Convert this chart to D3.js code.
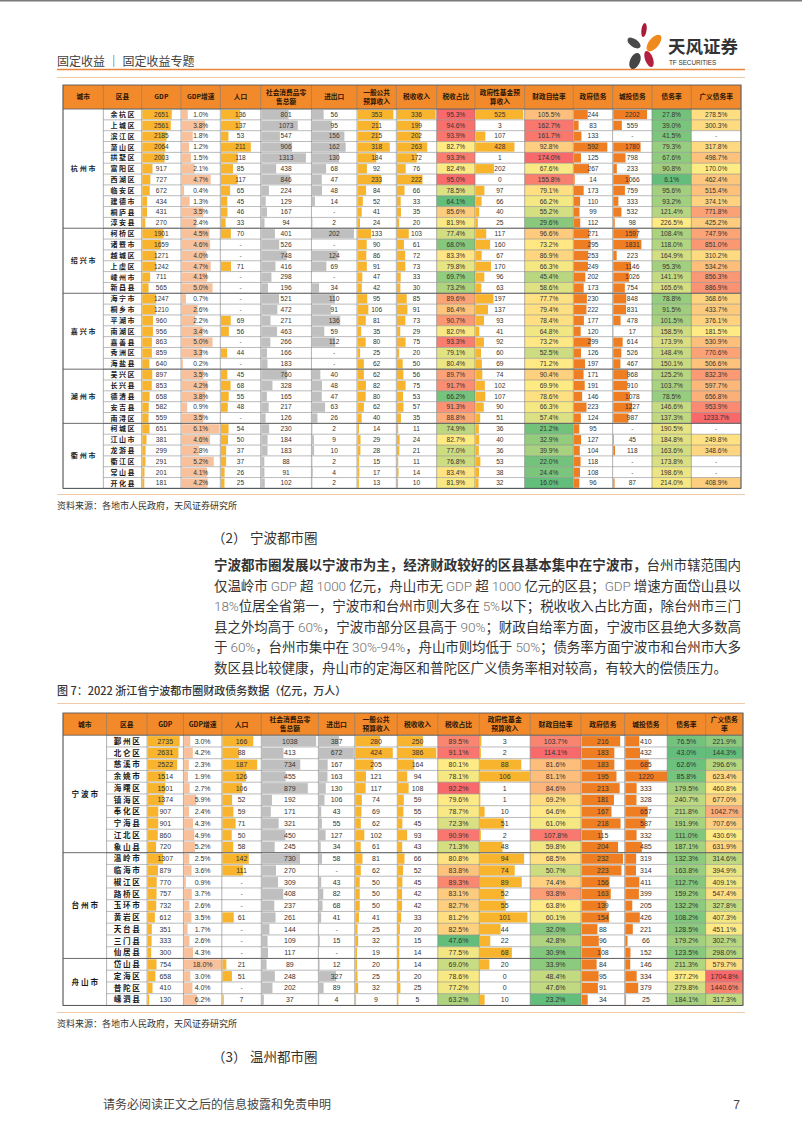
<!DOCTYPE html>
<html>
<head>
<meta charset="utf-8">
<script src="https://cdn.jsdelivr.net/npm/d3@7"></script>
<style>
  body { margin: 0; background: #fff; }
  svg { display: block; }
  text { white-space: pre; }
</style>
</head>
<body>
<div id="page"></div>
<script>
// ---------- table 1: 杭州都市圈 ----------
var cities1 = ["杭州市", "绍兴市", "嘉兴市", "湖州市", "衢州市"];
var citySpans1 = [11, 6, 7, 5, 6];
var districts1 = ["余杭区","上城区","滨江区","萧山区","拱墅区","富阳区","西湖区","临安区","建德市","桐庐县","淳安县",
  "柯桥区","诸暨市","越城区","上虞区","嵊州市","新昌县",
  "海宁市","桐乡市","平湖市","南湖区","嘉善县","秀洲区","海盐县",
  "吴兴区","长兴县","德清县","安吉县","南浔区",
  "柯城区","江山市","龙游县","衢江区","常山县","开化县"];
var gdp1 = [2651,2561,2185,2064,2003,917,727,672,434,431,270, 1901,1659,1271,1242,711,565, 1247,1210,960,956,863,859,640, 897,853,658,582,559, 651,381,299,291,201,181];
var growth1 = [1.0,3.8,1.8,1.2,1.5,2.1,4.7,0.4,1.3,3.5,2.4, 4.5,4.6,4.0,4.7,4.1,5.0, 0.7,2.6,2.2,3.4,5.0,3.3,0.2, 3.5,4.2,3.8,0.9,3.5, 6.1,4.6,2.8,5.2,4.1,4.2];
var pop1 = [136,137,53,211,118,85,117,65,45,46,33, 70,null,null,71,null,null, null,null,69,56,null,44,null, 45,68,55,48,null, 54,50,37,37,26,25];
var retail1 = [801,1073,547,906,1313,438,846,224,129,167,94, 401,526,748,416,298,196, 521,472,271,463,266,166,183, 760,328,165,217,126, 230,184,183,88,91,102];
var trade1 = [56,95,156,162,130,68,47,48,14,null,2, 202,null,124,69,null,34, 110,91,136,59,112,null,null, 40,48,47,63,26, 2,9,10,2,4,2];
var budget1 = [353,211,215,318,184,92,233,84,52,41,24, 133,90,86,91,47,42, 95,106,81,35,80,25,62, 62,82,80,62,40, 14,29,28,15,17,13];
var tax1 = [336,199,202,263,172,76,222,66,33,35,20, 103,61,72,73,33,30, 85,91,73,29,75,20,50, 56,75,53,57,35, 11,24,21,11,14,10];
var taxShare1 = [95.3,94.6,93.9,82.7,93.3,82.4,95.0,78.5,64.1,85.6,81.9, 77.4,68.0,83.3,79.8,69.7,73.2, 89.6,86.4,90.7,82.0,93.3,79.1,80.4, 89.7,91.7,66.2,91.3,88.8, 74.9,82.7,77.0,76.8,83.4,81.9];
var fund1 = [525,3,107,428,1,202,0,97,66,40,25, 117,160,67,170,96,63, 197,137,93,41,92,60,69, 74,102,107,90,51, 36,40,36,53,38,32];
var selfSuff1 = [105.5,162.7,161.7,92.8,174.0,67.6,155.8,79.1,66.2,55.2,29.6, 96.6,73.2,86.9,66.3,45.4,58.6, 77.7,79.4,78.4,64.8,73.2,52.5,71.2, 90.4,69.9,78.6,66.3,57.4, 21.2,32.9,39.9,22.0,24.4,16.0];
var govDebt1 = [244,83,133,592,125,267,14,173,110,99,112, 271,295,253,249,202,173, 230,222,177,120,299,126,197, 171,191,146,223,124, 95,127,104,118,108,96];
var lgfv1 = [2202,559,null,1780,798,233,1066,759,333,532,98, 1597,1831,223,1146,1026,754, 848,831,478,17,614,526,467, 968,910,1078,1227,987, null,45,118,null,null,87];
var debtRatio1 = [27.8,39.0,41.5,79.3,67.6,90.8,6.1,95.6,93.2,121.4,226.5, 108.4,118.0,164.9,95.3,141.1,165.6, 78.8,91.5,101.5,158.5,173.9,148.4,150.1, 125.2,103.7,78.5,146.6,137.3, 190.5,184.8,163.6,173.8,198.6,214.0];
var broad1 = [278.5,300.3,null,317.8,498.7,170.0,462.4,515.4,374.1,771.8,425.2, 747.9,851.0,310.2,534.2,856.3,886.9, 368.6,433.7,376.1,181.5,530.9,770.6,506.6, 832.3,597.7,656.8,953.9,1233.7, null,249.8,348.6,null,null,408.9];

// ---------- table 2: 宁波都市圈 ----------
var cities2 = ["宁波市", "台州市", "舟山市"];
var citySpans2 = [10, 9, 4];
var districts2 = ["鄞州区","北仑区","慈溪市","余姚市","海曙区","镇海区","奉化区","宁海县","江北区","象山县",
  "温岭市","临海市","椒江区","路桥区","玉环市","黄岩区","天台县","三门县","仙居县",
  "岱山县","定海区","普陀区","嵊泗县"];
var gdp2 = [2735,2631,2522,1514,1501,1374,907,901,860,720, 1307,879,770,757,732,612,351,333,300, 754,658,410,130];
var growth2 = [3.0,4.2,2.3,1.9,2.7,5.9,2.4,4.3,4.9,5.2, 2.5,3.6,0.9,3.7,2.6,3.5,1.7,2.6,4.3, 18.0,3.0,4.0,6.2];
var pop2 = [166,88,187,126,106,52,59,71,50,58, 142,111,null,null,null,61,null,null,null, 21,51,null,7];
var retail2 = [1038,413,734,455,879,192,171,321,450,245, 730,270,309,408,237,261,144,109,117, 89,248,202,37];
var trade2 = [387,672,167,163,130,106,43,55,127,34, 58,null,43,82,68,41,null,15,null, 12,327,89,4];
var budget2 = [280,424,205,121,117,74,69,62,102,61, 81,62,50,50,50,41,25,32,19, 20,25,32,9];
var tax2 = [250,386,164,94,108,59,55,45,93,43, 66,52,45,42,42,33,20,15,14, 14,20,25,5];
var taxShare2 = [89.5,91.1,80.1,78.1,92.2,79.6,78.7,72.3,90.9,71.3, 80.8,83.8,89.3,83.1,82.7,81.2,82.5,47.6,77.5, 69.0,78.6,77.2,63.2];
var fund2 = [3,2,88,106,1,1,10,51,2,48, 94,74,89,52,55,101,44,22,68, 20,0,0,10];
var selfSuff2 = [103.7,114.1,81.6,81.1,84.6,69.2,64.6,61.0,107.8,59.8, 68.5,50.7,74.4,93.8,63.8,60.1,32.0,42.8,30.9, 33.9,48.4,47.6,23.2];
var govDebt2 = [216,183,183,195,213,181,167,218,115,204, 232,223,156,163,139,154,88,96,108, 84,95,91,34];
var lgfv2 = [410,432,685,1220,333,328,657,587,332,485, 319,314,411,399,205,426,221,66,152, 146,334,379,25];
var debtRatio2 = [76.5,43.0,62.6,85.8,179.5,240.7,211.8,191.9,111.0,187.1, 132.3,163.8,112.7,159.2,132.2,108.2,128.5,179.2,123.5, 211.3,377.2,279.8,184.1];
var broad2 = [221.9,144.3,296.6,623.4,460.8,677.0,1042.7,707.6,430.6,631.9, 314.6,394.9,409.1,547.4,327.8,407.3,451.1,302.7,298.0, 579.7,1704.8,1440.6,317.3];

var headers1 = ["城市","区县","GDP","GDP增速","人口","社会消费品零\n售总额","进出口","一般公共\n预算收入","税收收入","税收占比","政府性基金预\n算收入","财政自给率","政府债务","城投债务","债务率","广义债务率"];
var headers2 = ["城市","区县","GDP","GDP增速","人口","社会消费品零\n售总额","进出口","一般公共\n预算收入","税收收入","税收占比","政府性基金\n预算收入","财政自给率","政府债务","城投债务","债务率","广义债务\n率"];

var paraLines = [
  ["宁波都市圈发展以宁波市为主，经济财政较好的区县基本集中在宁波市，", "台州市辖范围内"],
  ["", "仅温岭市 GDP 超 1000 亿元，舟山市无 GDP 超 1000 亿元的区县；GDP 增速方面岱山县以"],
  ["", "18%位居全省第一，宁波市和台州市则大多在 5%以下；税收收入占比方面，除台州市三门"],
  ["", "县之外均高于 60%，宁波市部分区县高于 90%；财政自给率方面，宁波市区县绝大多数高"],
  ["", "于 60%，台州市集中在 30%-94%，舟山市则均低于 50%；债务率方面宁波市和台州市大多"],
  ["", "数区县比较健康，舟山市的定海区和普陀区广义债务率相对较高，有较大的偿债压力。"]
];

// ---------- styles ----------
var CJK = "'Noto Sans CJK SC', 'Noto Sans', sans-serif";
var NUM = "'Liberation Sans', Arial, sans-serif";
var HEAD = "#F28A2B", YEL = "#F7B42C", SAL = "#F8C19B", GRY = "#BFBFBF", ORG = "#EF7E22";
var GREEN = "#63BE7B", YELLOW = "#FFEB84", RED = "#F8696B";

var width = 802, height = 1133;

var svg = d3.select("#page").append("svg")
    .attr("width", width)
    .attr("height", height);

svg.append("rect").attr("width", width).attr("height", height).attr("fill", "#fff");
svg.append("rect").attr("x", 0).attr("y", 0).attr("width", width).attr("height", 1.5).attr("fill", "#7a7a7a");

// ---------- page header ----------
svg.append("text")
    .attr("x", 57).attr("y", 66)
    .attr("font-family", CJK).attr("font-size", 12).attr("fill", "#404040")
    .text("固定收益 ｜ 固定收益专题");

svg.append("line").attr("x1", 57).attr("x2", 745).attr("y1", 69.5).attr("y2", 69.5)
    .attr("stroke", "#E8853A").attr("stroke-width", 1.6);
svg.append("line").attr("x1", 57).attr("x2", 745).attr("y1", 77.5).attr("y2", 77.5)
    .attr("stroke", "#F4C9A6").attr("stroke-width", 1);

// logo petals
var petals = [
  {cx: 644, cy: 30, rx: 2.6, ry: 7, rot: 8, fill: "#A81C3A"},
  {cx: 654, cy: 43, rx: 5, ry: 10, rot: 40, fill: "#F08A1C"},
  {cx: 634, cy: 43, rx: 4, ry: 7.5, rot: -55, fill: "#4A4A4A"},
  {cx: 635, cy: 61, rx: 5, ry: 8.5, rot: 25, fill: "#454545"},
  {cx: 649, cy: 59, rx: 4, ry: 8.5, rot: -20, fill: "#B3203F"}
];
svg.append("g").selectAll("ellipse").data(petals).join("ellipse")
    .attr("cx", d => d.cx).attr("cy", d => d.cy)
    .attr("rx", d => d.rx).attr("ry", d => d.ry)
    .attr("transform", d => "rotate(" + d.rot + "," + d.cx + "," + d.cy + ")")
    .attr("fill", d => d.fill);
svg.append("text").attr("x", 668).attr("y", 53)
    .attr("font-family", CJK).attr("font-weight", 700).attr("font-size", 17.5).attr("fill", "#333")
    .text("天风证券");
svg.append("text").attr("x", 669).attr("y", 65)
    .attr("font-family", NUM).attr("font-size", 6.3).attr("fill", "#333")
    .text("TF SECURITIES");

// ---------- table drawing ----------
function fmtInt(v) { return v == null ? "-" : String(v); }
function fmtPct(v) { return v == null ? "-" : v.toFixed(1) + "%"; }

function heat3(vals) {
  var v = vals.filter(d => d != null);
  return d3.scaleLinear().domain([d3.min(v), d3.median(v), d3.max(v)]).range([GREEN, YELLOW, RED]);
}
function heat2(c0, c1) {
  return function(vals) {
    var v = vals.filter(d => d != null);
    return d3.scaleLinear().domain(d3.extent(v)).range([c0, c1]);
  };
}

function drawTable(spec) {
  var g = svg.append("g");
  var k = spec.width / d3.sum(spec.cols, c => c.w);
  spec.cols.forEach(c => { c.w = c.w * k; });
  var xs = [spec.x];
  spec.cols.forEach(c => xs.push(xs[xs.length - 1] + c.w));
  var right = xs[xs.length - 1];
  var n = spec.districts.length;
  var y = d3.scaleBand().domain(d3.range(n))
      .range([spec.bodyTop, spec.bodyTop + n * spec.rowH]);
  var bottom = spec.bodyTop + n * spec.rowH;
  var fs = spec.fontSize;

  // header
  g.append("rect").attr("x", spec.x).attr("y", spec.top)
      .attr("width", right - spec.x).attr("height", spec.bodyTop - spec.top)
      .attr("fill", HEAD);
  var hmid = (spec.top + spec.bodyTop) / 2;
  spec.cols.forEach((c, i) => {
    var lines = c.label.split("\n");
    var t = g.append("text")
        .attr("text-anchor", "middle")
        .attr("font-family", CJK).attr("font-weight", 700)
        .attr("font-size", spec.headSize).attr("fill", "#2a1505");
    lines.forEach((ln, k) => {
      t.append("tspan")
          .attr("x", xs[i] + c.w / 2)
          .attr("y", hmid + (k - (lines.length - 1) / 2) * (spec.headSize + 1.6) + spec.headSize * 0.36)
          .text(ln);
    });
  });

  // cells
  spec.cols.forEach((c, i) => {
    if (!c.data) return;
    var x0 = xs[i];
    var cg = g.append("g");
    if (c.kind === "bar") {
      var bx = d3.scaleLinear().domain([0, d3.max(c.data)]).range([0, c.w * c.frac]);
      cg.selectAll("rect").data(c.data).join("rect")
          .attr("x", x0 + 0.6)
          .attr("y", (d, j) => y(j) + 0.9)
          .attr("height", y.bandwidth() - 1.6)
          .attr("width", d => d == null ? 0 : bx(d))
          .attr("fill", c.fill);
    } else if (c.kind === "heat") {
      var col = c.scale(c.data);
      cg.selectAll("rect").data(c.data).join("rect")
          .attr("x", x0)
          .attr("y", (d, j) => y(j))
          .attr("height", y.bandwidth())
          .attr("width", c.w)
          .attr("fill", d => d == null ? "#fff" : col(d));
    }
    cg.selectAll("text").data(c.data).join("text")
        .attr("x", x0 + c.w / 2)
        .attr("y", (d, j) => y(j) + y.bandwidth() / 2 + fs * 0.36)
        .attr("text-anchor", "middle")
        .attr("font-family", NUM).attr("font-size", fs)
        .attr("fill", d => d == null ? "#666" : "#333")
        .text(d => c.fmt(d));
  });

  // district names
  g.append("g").selectAll("text").data(spec.districts).join("text")
      .attr("x", xs[1] + spec.cols[1].w / 2 + spec.nameSpacing / 2)
      .attr("y", (d, j) => y(j) + y.bandwidth() / 2 + spec.nameSize * 0.37)
      .attr("text-anchor", "middle")
      .attr("font-family", CJK).attr("font-weight", 700)
      .attr("font-size", spec.nameSize).attr("letter-spacing", spec.nameSpacing)
      .attr("fill", "#1a1a1a")
      .text(d => d);

  // grid lines
  var grid = g.append("g").attr("fill", "none");
  d3.range(n + 1).forEach(j => {
    grid.append("line")
        .attr("x1", xs[1]).attr("x2", right)
        .attr("y1", spec.bodyTop + j * spec.rowH).attr("y2", spec.bodyTop + j * spec.rowH)
        .attr("stroke", "#8d8d8d").attr("stroke-width", 0.6);
  });
  xs.forEach(x => {
    grid.append("line")
        .attr("x1", x).attr("x2", x).attr("y1", spec.top).attr("y2", bottom)
        .attr("stroke", "#7d7d7d").attr("stroke-width", 0.6);
  });

  // city groups
  var start = 0;
  spec.cities.forEach((city, k) => {
    var span = spec.spans[k];
    var y0 = spec.bodyTop + start * spec.rowH;
    var y1 = spec.bodyTop + (start + span) * spec.rowH;
    g.append("text")
        .attr("x", xs[0] + spec.cols[0].w / 2 + spec.citySpacing / 2)
        .attr("y", (y0 + y1) / 2 + spec.nameSize * 0.37)
        .attr("text-anchor", "middle")
        .attr("font-family", CJK).attr("font-weight", 700)
        .attr("font-size", spec.nameSize).attr("letter-spacing", spec.citySpacing)
        .attr("fill", "#1a1a1a")
        .text(city);
    grid.append("line")
        .attr("x1", spec.x).attr("x2", right).attr("y1", y1).attr("y2", y1)
        .attr("stroke", "#5a5a5a").attr("stroke-width", 0.9);
    start += span;
  });

  g.append("rect").attr("x", spec.x).attr("y", spec.top)
      .attr("width", right - spec.x).attr("height", bottom - spec.top)
      .attr("fill", "none").attr("stroke", "#5a5a5a").attr("stroke-width", 0.9);
  g.append("line").attr("x1", spec.x).attr("x2", right)
      .attr("y1", spec.bodyTop).attr("y2", spec.bodyTop)
      .attr("stroke", "#5a5a5a").attr("stroke-width", 0.8);
}

function makeCols(labels, widths, data, fracs) {
  var kinds = [null, null,
    {k: "bar", fill: YEL, fmt: fmtInt},
    {k: "bar", fill: SAL, fmt: fmtPct},
    {k: "bar", fill: YEL, fmt: fmtInt},
    {k: "bar", fill: GRY, fmt: fmtInt},
    {k: "bar", fill: GRY, fmt: fmtInt},
    {k: "bar", fill: YEL, fmt: fmtInt},
    {k: "bar", fill: YEL, fmt: fmtInt},
    {k: "heat", scale: heat3, fmt: fmtPct},
    {k: "bar", fill: YEL, fmt: fmtInt},
    {k: "heat", scale: heat3, fmt: fmtPct},
    {k: "bar", fill: ORG, fmt: fmtInt},
    {k: "bar", fill: ORG, fmt: fmtInt},
    {k: "heat", scale: heat2(GREEN, YELLOW), fmt: fmtPct},
    {k: "heat", scale: data.broadScale, fmt: fmtPct}
  ];
  var fi = 0;
  return labels.map((lab, i) => {
    var c = {label: lab, w: widths[i]};
    var kd = kinds[i];
    if (kd) {
      c.kind = kd.k; c.fmt = kd.fmt; c.data = data.cols[i - 2];
      if (kd.k === "bar") { c.fill = kd.fill; c.frac = fracs[fi++]; }
      else c.scale = kd.scale;
    }
    return c;
  });
}

drawTable({
  x: 63, width: 678, top: 85, bodyTop: 109, rowH: 10.84,
  fontSize: 6.6, headSize: 6.7, nameSize: 7, nameSpacing: 1.4, citySpacing: 1.9,
  cities: cities1, spans: citySpans1, districts: districts1,
  cols: makeCols(headers1,
    [39,37,38,38,39,49,44,38,39,37,48,47,38,38,38,48],
    {cols: [gdp1, growth1, pop1, retail1, trade1, budget1, tax1, taxShare1, fund1, selfSuff1, govDebt1, lgfv1, debtRatio1, broad1],
     broadScale: heat2(YELLOW, RED)},
    [0.75, 0.96, 0.74, 0.88, 0.92, 0.91, 0.96, 0.96, 0.85, 0.86])
});

drawTable({
  x: 63, width: 680, top: 713, bodyTop: 735.2, rowH: 11.75,
  fontSize: 7, headSize: 6.8, nameSize: 7.6, nameSpacing: 1.6, citySpacing: 1.9,
  cities: cities2, spans: citySpans2, districts: districts2,
  cols: makeCols(headers2,
    [42,39,35,37,38,55,35,41,39,40,49,49,42,41,37,36],
    {cols: [gdp2, growth2, pop2, retail2, trade2, budget2, tax2, taxShare2, fund2, selfSuff2, govDebt2, lgfv2, debtRatio2, broad2],
     broadScale: heat3},
    [0.88, 0.98, 0.88, 0.95, 0.96, 0.88, 0.95, 0.98, 0.95, 0.98])
});

// ---------- captions, sources ----------
function sourceNote(lineY) {
  svg.append("line").attr("x1", 57).attr("x2", 745).attr("y1", lineY).attr("y2", lineY)
      .attr("stroke", "#F4C9A6").attr("stroke-width", 1);
  svg.append("text").attr("x", 57).attr("y", lineY + 14)
      .attr("font-family", CJK).attr("font-size", 9).attr("fill", "#333")
      .text("资料来源：各地市人民政府，天风证券研究所");
}
sourceNote(494.5);
sourceNote(1012.5);

svg.append("text").attr("x", 57).attr("y", 695)
    .attr("font-family", CJK).attr("font-weight", 500).attr("font-size", 11).attr("fill", "#333")
    .text("图 7：2022 浙江省宁波都市圈财政债务数据（亿元，万人）");
svg.append("line").attr("x1", 57).attr("x2", 745).attr("y1", 703.5).attr("y2", 703.5)
    .attr("stroke", "#F4C9A6").attr("stroke-width", 1);

function sectionTitle(num, title, yy) {
  svg.append("text").attr("x", 212).attr("y", yy)
      .attr("font-family", CJK).attr("font-size", 13.5).attr("fill", "#333").text(num);
  svg.append("text").attr("x", 250).attr("y", yy)
      .attr("font-family", CJK).attr("font-size", 13.5).attr("fill", "#333").text(title);
}
sectionTitle("（2）", "宁波都市圈", 543);
sectionTitle("（3）", "温州都市圈", 1062);

// ---------- paragraph ----------
function addRuns(t, str, weight) {
  str.split(/([\x20-\x7E]+)/).forEach(part => {
    if (!part) return;
    var ascii = /^[\x20-\x7E]+$/.test(part);
    t.append("tspan").text(part)
        .attr("font-weight", ascii ? 300 : weight)
        .attr("fill", ascii ? "#707070" : "#333")
        .attr("font-family", ascii ? "Roboto, 'Liberation Sans', sans-serif" : CJK);
  });
}
paraLines.forEach((ln, i) => {
  var t = svg.append("text")
      .attr("x", 214).attr("y", 570 + i * 20.6)
      .attr("font-family", CJK).attr("font-size", 13.5);
  if (ln[0]) addRuns(t, ln[0], 700);
  addRuns(t, ln[1], 400);
  if (i < paraLines.length - 1) t.attr("textLength", 527).attr("lengthAdjust", "spacing");
});

// ---------- footer ----------
svg.append("text").attr("x", 103).attr("y", 1109)
    .attr("font-family", CJK).attr("font-size", 12).attr("fill", "#444")
    .text("请务必阅读正文之后的信息披露和免责申明");
svg.append("text").attr("x", 740).attr("y", 1109).attr("text-anchor", "end")
    .attr("font-family", NUM).attr("font-size", 12).attr("fill", "#444")
    .text("7");
</script>
</body>
</html>
